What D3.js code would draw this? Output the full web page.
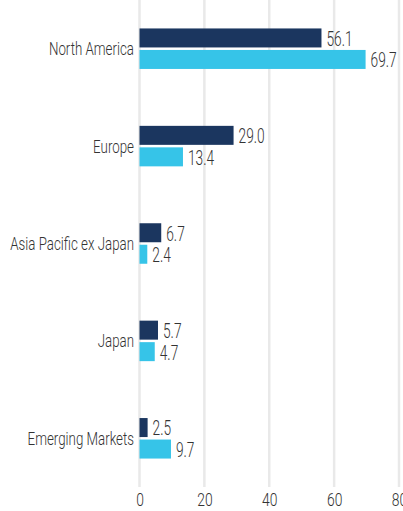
<!DOCTYPE html>
<html>
<head>
<meta charset="utf-8">
<script src="https://cdn.jsdelivr.net/npm/d3@7"></script>
<style>
  html, body { margin: 0; padding: 0; background: #fff; }
  svg text { font-family: "Roboto", "Liberation Sans", sans-serif; font-weight: 300; fill: #333; }
</style>
</head>
<body>
<svg id="chart" width="403" height="511"></svg>
<script>
const categories = ["North America", "Europe", "Asia Pacific ex Japan", "Japan", "Emerging Markets"];
const series1 = [56.1, 29.0, 6.7, 5.7, 2.5];
const series2 = [69.7, 13.4, 2.4, 4.7, 9.7];
const xTicks = [0, 20, 40, 60, 80];
const colors = ["#1b365f", "#36c4e8"];

const svg = d3.select("#chart");
const x = d3.scaleLinear().domain([0, 80]).range([139.5, 399]);
const y = d3.scaleBand().domain(categories).range([0, 487]).padding(0);

// gridlines
svg.append("g").selectAll("line").data(xTicks).join("line")
  .attr("x1", d => x(d)).attr("x2", d => x(d))
  .attr("y1", 0).attr("y2", 487)
  .attr("stroke", "#e9e9e9").attr("stroke-width", 2.5);

const barH = 19, gap = 2.5;
const data = categories.map((c, i) => ({c, vals: [series1[i], series2[i]]}));

function label(parent, tx, ty, str, anchor, size, sx) {
  return parent.append("text")
    .attr("transform", `translate(${tx},${ty}) scale(${sx},1)`)
    .attr("dy", "0.36em")
    .attr("text-anchor", anchor)
    .attr("font-size", size)
    .text(str);
}

const g = svg.append("g");
data.forEach(d => {
  const cy = y(d.c) + y.bandwidth() / 2;
  d.vals.forEach((v, j) => {
    const top = j === 0 ? cy - gap / 2 - barH : cy + gap / 2;
    g.append("rect")
      .attr("x", x(0)).attr("y", top)
      .attr("width", x(v) - x(0)).attr("height", barH)
      .attr("fill", colors[j]);
    label(g, x(v) + 5, top + barH / 2 + 0.5, v.toFixed(1), "start", 20.5, 0.67);
  });
  label(g, 134, cy, d.c, "end", 18, 0.74);
});

// x axis tick labels
const xAxis = d3.axisBottom(x).tickValues(xTicks).tickSize(0).tickPadding(0).tickFormat(d3.format("d"));
const ax = svg.append("g").attr("transform", "translate(0,493)").call(xAxis);
ax.select(".domain").remove();
ax.selectAll("text")
  .attr("font-size", 19).attr("dy", "0.71em").attr("y", 0)
  .attr("transform", "scale(0.73,1)")
  .style("font-family", '"Roboto", sans-serif').style("font-weight", 300).attr("fill", "#333");
</script>
</body>
</html>
